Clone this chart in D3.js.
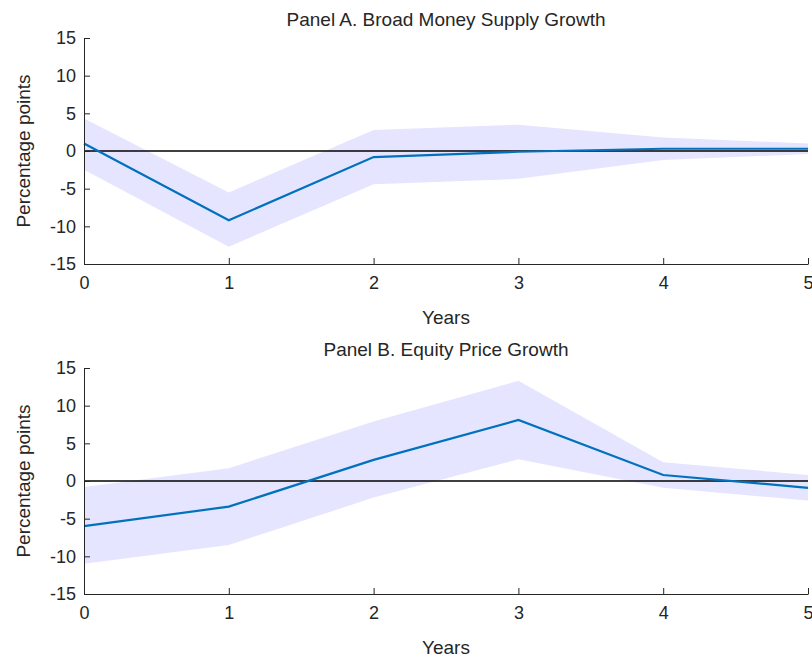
<!DOCTYPE html>
<html><head><meta charset="utf-8">
<script src="https://cdn.jsdelivr.net/npm/d3@7"></script>
<style>body{margin:0;background:#fff}text{font-family:Arial,"Liberation Sans",sans-serif;fill:#262626}</style>
</head><body>
<script>
'use strict';
var years = [0, 1, 2, 3, 4, 5];
var yTicks = [-15, -10, -5, 0, 5, 10, 15];
var moneyMid = [1.0, -9.2, -0.8, -0.1, 0.3, 0.3];
var moneyHi = [4.3, -5.5, 2.8, 3.5, 1.8, 1.0];
var moneyLo = [-2.5, -12.7, -4.4, -3.7, -1.2, -0.4];
var equityMid = [-6.0, -3.4, 2.8, 8.1, 0.8, -0.9];
var equityHi = [-0.8, 1.7, 7.9, 13.3, 2.5, 0.8];
var equityLo = [-11.0, -8.5, -2.2, 2.9, -0.9, -2.6];

var svg = d3.select('body').append('svg').attr('width', 812).attr('height', 661);

function panel(top, title, mid, hi, lo){
  var x = d3.scaleLinear().domain([0, 5]).range([84, 808]);
  var y = d3.scaleLinear().domain([-15, 15]).range([top + 226, top]);
  var g = svg.append('g');

  g.append('path')
    .datum(years)
    .attr('d', d3.area().x(d => x(d)).y0((d, i) => y(lo[i])).y1((d, i) => y(hi[i])))
    .attr('fill', '#e5e5ff');

  g.append('line').attr('x1', x(0)).attr('x2', x(5)).attr('y1', y(0)).attr('y2', y(0))
    .attr('stroke', '#000').attr('stroke-width', 1.3);

  g.append('path')
    .datum(years)
    .attr('d', d3.line().x(d => x(d)).y((d, i) => y(mid[i])))
    .attr('fill', 'none').attr('stroke', '#0072bd').attr('stroke-width', 2.2);

  var xa = g.append('g').attr('transform', 'translate(0,' + (top + 226) + ')')
    .call(d3.axisBottom(x).tickValues(years).tickSizeInner(-6).tickSizeOuter(0).tickPadding(12).tickFormat(d => String(d)));
  var ya = g.append('g').attr('transform', 'translate(84,0)')
    .call(d3.axisLeft(y).tickValues(yTicks).tickSizeInner(-6).tickSizeOuter(0).tickPadding(8).tickFormat(d => String(d)));
  [xa, ya].forEach(a => {
    a.selectAll('path,line').attr('stroke', '#262626');
    a.selectAll('text').style('font-size', '18px').attr('fill', '#262626');
  });

  g.append('text').attr('x', 446).attr('y', top - 12).attr('text-anchor', 'middle')
    .style('font-size', '19px').attr('fill', '#000').text(title);
  g.append('text').attr('x', 446).attr('y', top + 286).attr('text-anchor', 'middle')
    .style('font-size', '19px').text('Years');
  g.append('text').attr('transform', 'translate(30,' + (top + 113) + ') rotate(-90)')
    .attr('text-anchor', 'middle').style('font-size', '19px').text('Percentage points');
}

panel(38, 'Panel A. Broad Money Supply Growth', moneyMid, moneyHi, moneyLo);
panel(368, 'Panel B. Equity Price Growth', equityMid, equityHi, equityLo);
</script>
</body></html>
